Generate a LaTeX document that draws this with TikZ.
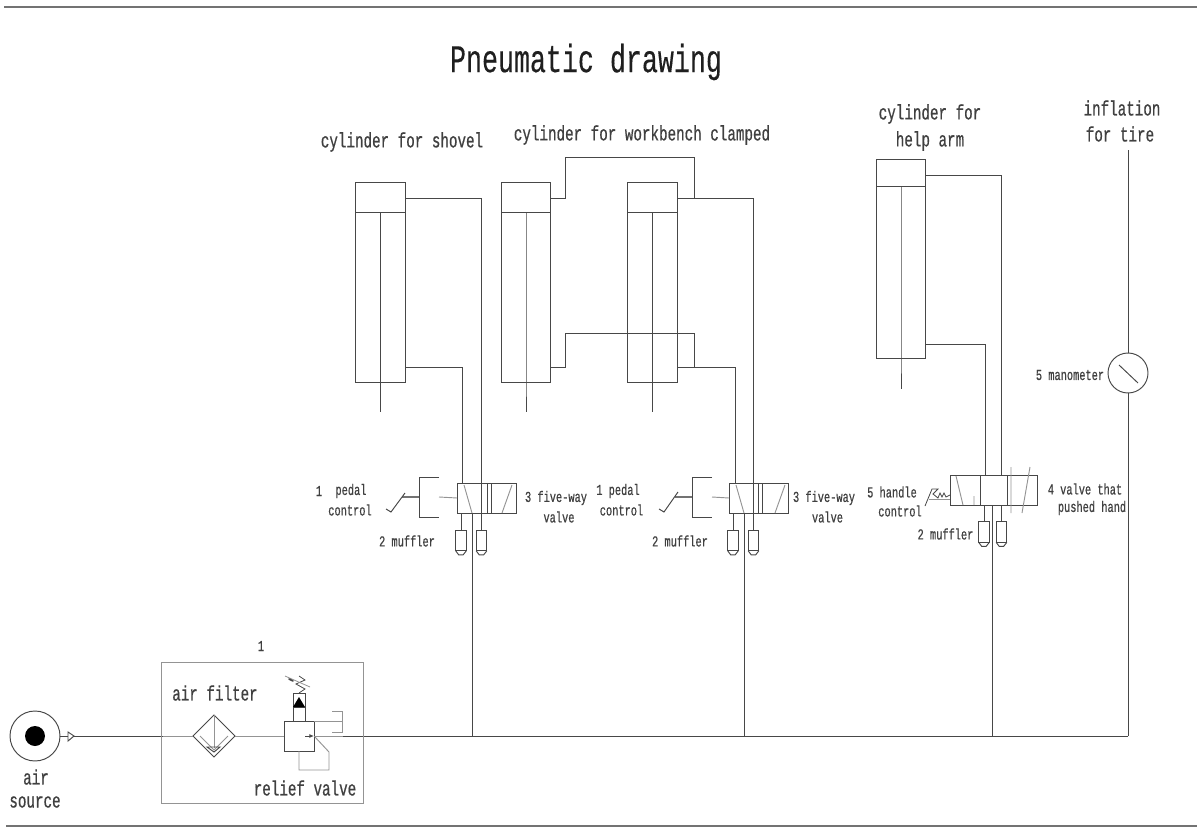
\documentclass[tikz,border=0pt]{standalone}
\usepackage{fontspec}
\usetikzlibrary{arrows.meta}
\newfontfamily\cadfont[FakeStretch=0.68,FakeBold=0.6]{Liberation Mono}
\newfontfamily\cadtitle[FakeStretch=0.68,FakeBold=0.25]{Liberation Mono}
\tikzset{
  ln/.style={draw=black!72,line width=0.72pt},
  lt/.style={draw=black!42,line width=0.7pt},
  cyl/.style={ln,rectangle,inner sep=0pt,outer sep=0pt,minimum width=37.2pt,minimum height=149.5pt},
  valvebox/.style={ln,rectangle,inner sep=0pt,outer sep=0pt,minimum height=22.5pt},
  muff/.style={ln,rectangle,inner sep=0pt,outer sep=0pt,minimum width=8pt,minimum height=15.5pt},
  ttl/.style={font=\cadtitle\fontsize{29.4pt}{32pt}\selectfont,text=black!88,inner sep=0pt},
  big/.style={font=\cadfont\fontsize{15.7pt}{18pt}\selectfont,text=black!75,inner sep=0pt},
  sml/.style={font=\cadfont\fontsize{11.4pt}{14pt}\selectfont,text=black!75,inner sep=0pt},
}
\begin{document}
\begin{tikzpicture}[x=0.75pt,y=-0.75pt]
\path[use as bounding box] (0,0) rectangle (1197,828);
% frame rules
\coordinate (ruleTL) at (4,7); \coordinate (ruleTR) at (1197,7);
\coordinate (ruleBL) at (6,826); \coordinate (ruleBR) at (1197,826);
\draw[draw=black!55,line width=1.5pt] (ruleTL) -- (ruleTR);
\draw[draw=black!55,line width=1.5pt] (ruleBL) -- (ruleBR);
% titles
\node[ttl] (title) at (586,62) {Pneumatic drawing};
\node[big] (tShovel) at (402,142) {cylinder for shovel};
\node[big] (tBench) at (642,135) {cylinder for workbench clamped};
\node[big] (tHelpA) at (930,114) {cylinder for};
\node[big] (tHelpB) at (930,141) {help arm};
\node[big] (tInflA) at (1122,108) {inflation};
\node[big] (tInflB) at (1120,134) {for tire};
% cylinders
\node[cyl] (cS) at (380.5,282.5) {};
\node[cyl] (cA) at (526,282.5) {};
\node[cyl] (cB) at (652.5,282.5) {};
\node[cyl] (cH) at (901,259) {};
\foreach \c/\dy in {cS/30,cA/30,cB/30,cH/27}{
  \draw[ln] (\c.north west) ++(0,\dy) -- ++(49.6,0);
  \draw[ln] (\c.north) ++(0,\dy) -- (\c.south) -- ++(0,30);
}
% valves
\node[valvebox,minimum width=44.25pt] (v1) at (486.5,498) {};
\node[valvebox,minimum width=44.25pt] (v2) at (758.5,498) {};
\node[valvebox,minimum width=65.25pt] (v3) at (993.5,490) {};
% port coordinates
\coordinate (sT) at (405,198); \coordinate (sB) at (405,367);
\coordinate (v1a) at (481,483); \coordinate (v1b) at (462,483);
\coordinate (aT) at (551,198); \coordinate (aB) at (551,367);
\coordinate (bT) at (677,198); \coordinate (bB) at (677,367);
\coordinate (jT) at (694,198); \coordinate (jB) at (694,367);
\coordinate (upT) at (565,157); \coordinate (upB) at (565,333);
\coordinate (v2a) at (753,483); \coordinate (v2b) at (735,483);
\coordinate (hT) at (926,175); \coordinate (hB) at (926,344);
\coordinate (v3a) at (1001,475); \coordinate (v3b) at (985,475);
% cylinder pipes
\draw[ln] (sT) -| (v1a);
\draw[ln] (sB) -| (v1b);
\draw[ln] (aT) -| (upT) -| (jT);
\draw[ln] (aB) -| (upB) -| (jB);
\draw[ln] (bT) -| (v2a);
\draw[ln] (bB) -| (v2b);
\draw[ln] (hT) -| (v3a);
\draw[ln] (hB) -| (v3b);
% valve 1 internals
\draw[ln] (487,483) -- (487,513) (491,483) -- (491,513) (481,483) -- (481,513);
\draw[lt] (464,485) -- (472,513) (512,485) -- (502,513);
% valve 2 internals
\draw[ln] (758,483) -- (758,513) (762,483) -- (762,513) (753,483) -- (753,513);
\draw[lt] (736,485) -- (744,513) (785,485) -- (775,513);
% valve 3 internals
\draw[ln] (980,475) -- (980,505) (1007,475) -- (1007,505);
\draw[lt] (956,476) -- (963,505) (974,496) -- (974,505) (1011,467) -- (1011,513) (1030,467) -- (1022,513);
% pedal 1
\coordinate (p1u) at (439,477); \coordinate (p1l) at (439,517);
\draw[ln] (p1u) -- (419,477) -- (419,517) -- (p1l);
\draw[draw=black!55,line width=1.8pt] (419,497) -- (402,497);
\draw[ln] (386,509) -- (391,512) -- (405,493);
\draw[lt] (439,497) -- (v1.west);
% pedal 2
\coordinate (p2u) at (712,477); \coordinate (p2l) at (712,517);
\draw[ln] (p2u) -- (692,477) -- (692,517) -- (p2l);
\draw[draw=black!55,line width=1.8pt] (692,497) -- (675,497);
\draw[ln] (659,509) -- (664,512) -- (678,492);
\draw[lt] (712,497) -- (v2.west);
% handle
\draw[ln,line width=0.6pt] (925,506) -- (932,489) -- (938,489) -- (933,494) -- (938,498) -- (940,493) -- (942,497) -- (944,493) -- (946,497) -- (950,495);
\draw[lt] (929,499) -- (950,499);
% mufflers
\node[muff] (m1) at (461,540.5) {};
\node[muff] (m2) at (481.5,540.5) {};
\node[muff] (m3) at (733,540.5) {};
\node[muff] (m4) at (753.5,540.5) {};
\node[muff] (m5) at (984,532) {};
\node[muff] (m6) at (1001.5,532) {};
\foreach \m in {m1,m2,m3,m4,m5,m6}{
  \draw[ln] (\m.south west) -- ++(3,4) -- ++(4.5,0) -- (\m.south east);
}
\coordinate (v1m1) at (461,513); \coordinate (v1m2) at (481.5,513);
\coordinate (v2m1) at (733,513); \coordinate (v2m2) at (753.5,513);
\coordinate (v3m1) at (984,505); \coordinate (v3m2) at (1001.5,505);
\draw[ln] (v1m1) -- (m1.north) (v1m2) -- (m2.north) (v2m1) -- (m3.north) (v2m2) -- (m4.north) (v3m1) -- (m5.north) (v3m2) -- (m6.north);
% supply
\node[ln,circle,inner sep=0pt,outer sep=0pt,minimum size=37.5pt] (src) at (35,736) {};
\node[fill=black,circle,inner sep=0pt,minimum size=15pt] (srcIn) at (35,736) {};
\coordinate (chkA) at (68,736);
\draw[ln] (68,732) -- (74,736) -- (68,741) -- cycle;
\coordinate (lineA) at (74,736); \coordinate (boxIn) at (163,736);
\coordinate (mainL) at (343,736); \coordinate (mainR) at (1128,736);
\draw[ln] (src.east) -- (chkA);
\draw[ln] (lineA) -- (boxIn);
\draw[ln] (mainL) -- (mainR);
\coordinate (j1) at (472,736); \coordinate (j2) at (744,736); \coordinate (j3) at (992,736);
\draw[ln] (j1) -- (472,513);
\draw[ln] (j2) -- (744,513);
\draw[ln] (j3) -- (992,505);
% manometer
\node[ln,circle,inner sep=0pt,outer sep=0pt,minimum size=30pt] (man) at (1128,373) {};
\draw[ln] (1119,365) -- (1138,383);
\draw[ln] (mainR) -- (man.south);
\coordinate (infl) at (1128,150);
\draw[ln] (man.north) -- (infl);
% FRL unit
\node[draw=black!42,line width=0.6pt,rectangle,inner sep=0pt,outer sep=0pt,minimum width=151.5pt,minimum height=105.75pt] (frl) at (262,732.5) {};
\draw[ln] (193,736) -- (214,715) -- (235,736) -- (214,757) -- cycle;
\draw[lt] (214,715) -- (214,748);
\draw[lt] (200,736) -- (214,750) -- (228,736);
\draw[ln] (207,747) -- (220,747) -- (214,752) -- cycle;
\node[ln,rectangle,inner sep=0pt,outer sep=0pt,minimum size=22.5pt] (rv) at (299,736) {};
\draw[lt] (boxIn) -- (193,736) (235,736) -- (rv.west);
\draw[lt] (rv.east) -- (mainL);
\node[ln,rectangle,inner sep=0pt,outer sep=0pt,minimum width=9pt,minimum height=21pt] (rvTop) at (299,707) {};
\draw[ln] (293,707) -- (305,707);
\fill[black] (293,707) -- (305,707) -- (299,697) -- cycle;
\draw[ln,line width=0.6pt] (299,693) -- (305,689) -- (296,684) -- (305,680) -- (299,676);
\draw[lt,line width=0.6pt] (285,676) -- (310,687);
\draw[ln,line width=1.2pt,line cap=round] (289,679) -- (293,681);
\draw[lt] (314,721) -- (342,721);
\draw[lt] (332,711) -- (342,711) -- (342,732) -- (332,732);
\draw[lt] (299,751) -- (299,770) -- (329,770) -- (329,752) -- (315,737);
\draw[-{Latex[length=3.5pt,width=3pt]},ln] (305,736) -- (314,736);
% labels
\node[sml] (n1) at (261,646) {1};
\node[big] (lFilter) at (215,693) {air filter};
\node[big] (lRelief) at (305,788) {relief valve};
\node[big] (lAir) at (36,777) {air};
\node[big] (lSource) at (35,802) {source};
\node[sml] (a1) at (319,491) {1};
\node[sml] (a2) at (351,491) {pedal};
\node[sml] (a3) at (350,510) {control};
\node[sml] (a4) at (556,498) {3 five-way};
\node[sml] (a5) at (559,517) {valve};
\node[sml] (a6) at (407,541) {2 muffler};
\node[sml] (b1) at (618,491) {1 pedal};
\node[sml] (b2) at (621.5,510) {control};
\node[sml] (b3) at (824,498) {3 five-way};
\node[sml] (b4) at (827.5,517) {valve};
\node[sml] (b5) at (680,541) {2 muffler};
\node[sml] (c1) at (892,492) {5 handle};
\node[sml] (c2) at (900,511) {control};
\node[sml] (c3) at (1085,489) {4 valve that};
\node[sml] (c4) at (1092,508) {pushed hand};
\node[sml] (c5) at (945.5,534) {2 muffler};
\node[sml] (c6) at (1070,375) {5 manometer};
\end{tikzpicture}
\end{document}
